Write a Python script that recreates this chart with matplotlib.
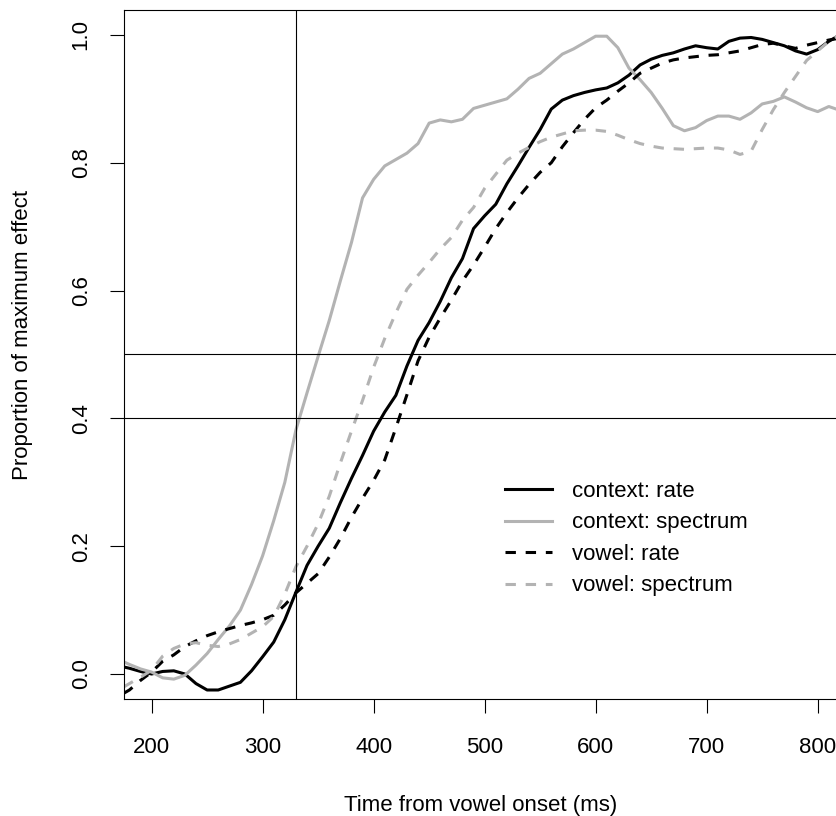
import matplotlib
matplotlib.use("Agg")
import matplotlib.pyplot as plt

# time from vowel onset (ms)
time_ms = [175, 180, 190, 200, 210, 220, 230, 240, 250, 260, 270, 280, 290,
           300, 310, 320, 330, 340, 350, 360, 370, 380, 390, 400, 410, 420,
           430, 440, 450, 460, 470, 480, 490, 500, 510, 520, 530, 540, 550,
           560, 570, 580, 590, 600, 610, 620, 630, 640, 650, 660, 670, 680,
           690, 700, 710, 720, 730, 740, 750, 760, 770, 780, 790, 800, 810, 820]

context_rate = [0.011, 0.009, 0.004, 0.000, 0.004, 0.005, 0.000, -0.015, -0.025,
                -0.025, -0.019, -0.013, 0.005, 0.027, 0.050, 0.085, 0.128, 0.170,
                0.200, 0.228, 0.268, 0.306, 0.342, 0.380, 0.410, 0.436, 0.482,
                0.522, 0.550, 0.583, 0.620, 0.650, 0.697, 0.717, 0.735, 0.767,
                0.795, 0.824, 0.852, 0.884, 0.898, 0.905, 0.910, 0.914, 0.917,
                0.925, 0.937, 0.953, 0.962, 0.968, 0.972, 0.978, 0.983, 0.980,
                0.978, 0.990, 0.995, 0.996, 0.993, 0.988, 0.983, 0.975, 0.970,
                0.977, 0.990, 1.000]

context_spectrum = [0.019, 0.015, 0.008, 0.003, -0.006, -0.008, -0.002, 0.014,
                    0.032, 0.054, 0.075, 0.100, 0.140, 0.185, 0.240, 0.300,
                    0.382, 0.440, 0.497, 0.553, 0.615, 0.675, 0.745, 0.774,
                    0.795, 0.805, 0.815, 0.830, 0.862, 0.867, 0.864, 0.868,
                    0.885, 0.890, 0.895, 0.900, 0.915, 0.932, 0.940, 0.955,
                    0.970, 0.978, 0.988, 0.998, 0.998, 0.980, 0.948, 0.930,
                    0.910, 0.885, 0.858, 0.850, 0.855, 0.866, 0.873, 0.873,
                    0.868, 0.878, 0.892, 0.896, 0.903, 0.895, 0.886, 0.880,
                    0.888, 0.882]

vowel_rate = [-0.030, -0.025, -0.010, 0.003, 0.020, 0.030, 0.043, 0.052, 0.060,
              0.066, 0.071, 0.076, 0.080, 0.085, 0.092, 0.108, 0.127, 0.142,
              0.157, 0.183, 0.212, 0.245, 0.275, 0.303, 0.335, 0.385, 0.437,
              0.490, 0.527, 0.557, 0.585, 0.615, 0.640, 0.668, 0.697, 0.722,
              0.745, 0.766, 0.785, 0.800, 0.825, 0.847, 0.868, 0.886, 0.898,
              0.912, 0.925, 0.940, 0.948, 0.956, 0.961, 0.964, 0.966, 0.968,
              0.969, 0.972, 0.975, 0.980, 0.985, 0.987, 0.983, 0.979, 0.984,
              0.988, 0.992, 0.995]

vowel_spectrum = [-0.020, -0.015, -0.005, 0.006, 0.028, 0.040, 0.047, 0.049,
                  0.045, 0.043, 0.047, 0.054, 0.064, 0.074, 0.090, 0.125,
                  0.168, 0.200, 0.235, 0.278, 0.330, 0.380, 0.428, 0.480,
                  0.525, 0.565, 0.602, 0.624, 0.644, 0.665, 0.683, 0.710,
                  0.730, 0.760, 0.782, 0.804, 0.815, 0.824, 0.833, 0.840,
                  0.845, 0.850, 0.851, 0.851, 0.849, 0.843, 0.836, 0.830,
                  0.826, 0.823, 0.822, 0.821, 0.822, 0.823, 0.823, 0.820,
                  0.813, 0.818, 0.852, 0.883, 0.910, 0.935, 0.960, 0.975,
                  0.990, 1.000]

labels = ["context: rate", "context: spectrum", "vowel: rate", "vowel: spectrum"]

x_ticks = [200, 300, 400, 500, 600, 700, 800]
y_ticks = [0.0, 0.2, 0.4, 0.6, 0.8, 1.0]
ref_time = 330
ref_levels = [0.5, 0.4]

plt.rcParams['font.family'] = ['Liberation Sans', 'DejaVu Sans']
plt.rcParams['font.size'] = 16

W, H = 837, 816
fig = plt.figure(figsize=(W / 100, H / 100), dpi=100)
# plot region in pixels (right edge runs past the image, as in the original)
left, right, top, bottom = 124.3, 851, 10, 699
ax = fig.add_axes([left / W, 1 - bottom / H, (right - left) / W, (bottom - top) / H])

GRAY = "#b3b3b3"
LW = 2.2
dash = (3.4, 3.2)

ax.plot(time_ms, context_rate, color="black", lw=LW, label=labels[0])
ax.plot(time_ms, context_spectrum, color=GRAY, lw=LW, label=labels[1])
ax.plot(time_ms, vowel_rate, color="black", lw=LW, dashes=dash, label=labels[2])
ax.plot(time_ms, vowel_spectrum, color=GRAY, lw=LW, dashes=dash, label=labels[3])

ax.axvline(ref_time, color="black", lw=0.8)
for lev in ref_levels:
    ax.axhline(lev, color="black", lw=0.8)

ax.set_xlim(175.4, 830)
ax.set_ylim(-0.0391, 1.039)

ax.set_xticks(x_ticks)
ax.set_xticklabels([str(t) for t in x_ticks])
ax.set_yticks(y_ticks)
ax.set_yticklabels(["%.1f" % t for t in y_ticks], rotation=90, va="center")
ax.tick_params(direction="out", length=10, width=0.8, color="black")
ax.tick_params(axis="x", pad=17.5)
ax.tick_params(axis="y", pad=13.5)
for sp in ax.spines.values():
    sp.set_linewidth(0.8)
    sp.set_color("black")

ax.set_xlabel("Time from vowel onset (ms)")
ax.xaxis.label.set_va("center")
ax.xaxis.set_label_coords((481 - left) / (right - left), (bottom - 805) / (bottom - top))
ax.set_ylabel("Proportion of maximum effect")
ax.yaxis.label.set_va("center")
ax.yaxis.set_label_coords((23 - left) / (right - left), (bottom - 335) / (bottom - top))

ax.legend(loc="upper left", bbox_to_anchor=(505 / W, 1 - 481 / H),
          bbox_transform=fig.transFigure, frameon=False, borderpad=0,
          borderaxespad=0, handlelength=2.1, handletextpad=0.9,
          labelspacing=0.47)

fig.savefig("out.png", dpi=100)
